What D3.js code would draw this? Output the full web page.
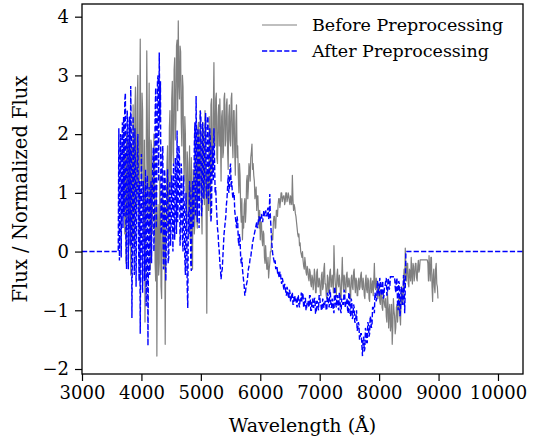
<!DOCTYPE html>
<html>
<head>
<meta charset="utf-8">
<script src="https://cdn.jsdelivr.net/npm/d3@7"></script>
<style>
  body { margin: 0; background: #fff; }
  svg { display: block; font-family: "DejaVu Serif", serif; }
</style>
</head>
<body>
<div id="chart"></div>
<script>
// tick values
var xTicks = [3000, 4000, 5000, 6000, 7000, 8000, 9000, 10000];
var yTicks = [-2, -1, 0, 1, 2, 3, 4];

// legend labels
var seriesNames = ["Before Preprocessing", "After Preprocessing"];

// before preprocessing: flux every 10 A from 3700 A (one row = 100 A)
var beforeStart = 3700;
var beforeStep = 10;
var beforeFlux = [
  0.8, 1.9, 0.3, 1.6, -0.2, 2.0, 0.5, 1.4, 1.9, 0.4,
  2.2, 0.6, -0.4, 1.8, 1.7, 0.2, 2.5, 1.1, 0.1, 2.4,
  2.8, 0.7, 1.0, 2.6, 3.0, 0.9, 0.3, 2.2, 3.62, 1.5,
  1.2, 2.7, 2.4, 0.6, 0.2, 1.9, -1.2, 0.9, 1.5, 3.42,
  2.1, 0.5, 1.6, 2.87, 0.4, -0.3, 1.9, 1.8, 0.3, 1.2,
  0.9, 2.0, 1.4, -0.2, -0.5, 1.1, -1.78, 0.5, 0.8, -0.4,
  -0.2, 1.3, 0.6, -0.6, -0.8, 0.7, 1.1, -0.1, -0.3, 0.8,
  -1.58, 0.3, 0.4, 1.5, 1.8, 0.6, 0.2, 2.1, 2.4, 1.3,
  1.0, 2.6, 2.9, 1.7, 1.5, 3.1, 3.3, 1.9, 2.2, 3.5,
  3.6, 2.4, 3.93, 2.9, 2.6, 3.5, 3.4, 2.2, 1.8, 3.0,
  2.8, 1.6, 1.2, 2.3, 2.0, 0.9, 0.4, 1.7, 1.5, 0.6,
  0.9, 1.8, 0.2, 1.1, 1.6, -0.1, -0.3, 1.4, 1.2, 0.3,
  0.5, 2.0, 1.8, 0.6, 0.4, 2.1, 2.2, 0.9, 1.1, 2.4,
  1.9, 0.8, 0.3, 2.2, 2.0, 1.0, 0.8, 2.4, 1.5, 0.5,
  -1.05, 1.4, 1.2, 0.7, 2.3, 1.5, 0.6, 2.5, 2.6, 1.3,
  1.4, 2.4, 3.22, 1.9, 1.8, 2.6, 2.7, 1.6, 1.5, 2.3,
  2.5, 1.8, 2.6, 2.0, 1.2, 2.3, 2.4, 1.6, 1.7, 2.6,
  2.7, 1.8, 1.9, 2.5, 2.6, 1.7, 1.4, 2.3, 2.5, 1.9,
  1.8, 2.6, 2.7, 1.9, 1.6, 2.4, 2.4, 1.7, 1.3, 2.2,
  2.5, 1.6, 1.8, 1.3, 1.0, 1.5, 1.3, 0.7, 0.5, 0.9,
  0.2, 0.6, 0.4, 0.8, 0.9, 0.5, 0.7, 1.2, 1.3, 0.9,
  1.1, 1.5, 1.4, 1.2, 1.6, 1.7, 1.83, 1.4, 1.5, 1.3,
  1.2, 0.9, 1.0, 1.1, 0.7, 0.95, 0.95, 0.6, 0.4, 0.7,
  0.2, 0.5, 0.5, 0.2, 0.1, 0.35, 0.3, -0.1, -0.2, 0.1,
  -0.1, -0.3, -0.3, -0.1, -0.45, -0.3, -0.2, 0.0, 0.0, 0.2,
  0.3, 0.2, 0.5, 0.6, 0.6, 0.4, 0.4, 0.7, 0.7, 0.6,
  0.8, 0.9, 0.9, 0.75, 0.85, 1.0, 1.0, 0.85, 0.9, 0.95,
  0.95, 0.8, 0.85, 1.0, 1.0, 0.85, 0.9, 1.0, 0.95, 0.85,
  0.8, 0.95, 0.85, 0.8, 1.3, 0.9, 0.7, 0.8, 0.75, 0.65,
  0.6, 0.5, 0.4, 0.3, 0.25, 0.3, 0.1, 0.15, 0.0, -0.05,
  -0.1, 0.0, -0.15, -0.25, -0.3, -0.1, -0.2, -0.35, -0.4, -0.25,
  -0.3, -0.45, -0.5, -0.3, -0.35, -0.55, -0.6, -0.4, -0.45, -0.65,
  -0.55, -0.3, -0.4, -0.7, -0.7, -0.35, -0.3, -0.6, -0.6, -0.45,
  -0.5, -0.7, -0.75, -0.4, -0.35, -0.65, -0.6, -0.3, -0.2, -0.55,
  -0.55, -0.75, -0.8, -0.4, -0.45, -0.7, -0.65, -0.35, -0.3, -0.6,
  -0.6, -0.4, -0.45, -0.7, 0.1, -0.3, -0.5, -0.65, -0.75, -0.4,
  -0.3, -0.55, -0.6, -0.4, -0.5, -0.75, -0.8, -0.45, -0.1, -0.5,
  -0.65, -0.4, -0.45, -0.7, -0.7, -0.4, -0.35, -0.6, -0.6, -0.45,
  -0.5, -0.7, -0.8, -0.45, -0.4, -0.6, -0.65, -0.35, -0.3, -0.55,
  -0.7, -0.45, -0.5, -0.75, -0.75, -0.5, -0.45, -0.65, -0.6, -0.4,
  -0.35, -0.6, -0.65, -0.45, -0.55, -0.75, -0.8, -0.5, -0.4, -0.65,
  -0.7, -0.45, -0.5, -0.8, -0.85, -0.5, -0.45, -0.7, -0.6, -0.5,
  -0.75, -0.5, -0.2, -0.6, -0.65, -0.45, -0.5, -0.75, -0.8, -0.55,
  -0.6, -0.85, -0.9, -0.65, -0.7, -0.95, -1.0, -0.7, -0.8, -0.9,
  -0.95, -0.8, -1.1, -1.2, -0.7, -0.9, -1.3, -1.0, -0.9, -1.35,
  -1.2, -0.9, -1.58, -1.3, -0.8, -1.0, -1.1, -1.4, -1.3, -0.95,
  -0.9, -1.2, -1.0, -0.75, -0.8, -1.1, -1.25, -0.8, -0.6, -0.9,
  -0.9, -0.5, -0.3, -0.6, 0.06, -0.3, -0.5, -0.2, -0.2, -0.55,
  -0.6, -0.3, -0.35, -0.5, -0.1, -0.4, -0.55, -0.2, -0.25, -0.5,
  -0.4, -0.2, -0.2, -0.45, -0.5, -0.25, -0.15, -0.35, -0.3, -0.14,
  -0.14, -0.14, -0.14, -0.14, -0.14, -0.14, -0.14, -0.14, -0.14, -0.14,
  -0.14, -0.14, -0.2, -0.5, -0.07, -0.3, -0.5, -0.1, -0.1, -0.6,
  -0.85, -0.4, -0.3, -0.6, -0.7, -0.3, -0.2, -0.55, -0.6, -0.8
];

// after preprocessing: flux every 10 A from 3600 A (one row = 100 A)
var afterStart = 3600;
var afterStep = 10;
var afterFlux = [
  0, 0, 2.1, -0.15, 1.2, 2.0, -0.1, 1.6, 2.2, 0.4,
  2.3, 0.6, 2.57, 2.7, 0.2, -0.3, 2.4, 2.2, -0.3, 1.8,
  2.3, 0.1, 2.82, 1.9, -1.13, 0.4, 2.3, 0.5, -0.4, 2.1,
  1.4, -0.6, 0.8, 1.5, 2.0, 0.3, -0.5, 1.2, -1.4, 0.6,
  1.66, 0.2, -0.7, 1.2, 1.0, -0.5, 0.3, 1.4, -0.93, 0.8,
  1.3, -1.6, 0.2, 1.1, -0.4, 0.5, 1.2, -0.2, 0.9, 1.5,
  1.77, 0.0, 0.6, 2.3, 2.79, 0.4, 1.4, 2.9, 3.0, 1.2,
  3.39, 2.2, 2.9, 0.3, 0.4, 1.6, 1.8, -0.3, -0.2, 1.4,
  1.2, -0.5, 0.3, 1.0, 1.4, -0.2, -0.1, 0.9, 1.2, 0.1,
  0.5, 1.3, 0.8, 0.0, 1.5, 0.6, 0.2, 1.6, 1.1, 0.3,
  2.06, 0.5, 0.9, 1.8, 1.6, 0.1, 0.4, 1.5, 1.2, 0.2,
  0.0, 1.3, 0.8, -0.1, -0.4, 1.0, 0.6, -0.6, -0.96, 0.7,
  0.3, 1.2, 1.0, -0.2, -0.33, 0.9, 1.2, 0.4, 0.6, 1.8,
  2.2, 0.6, 2.65, 1.5, 0.5, 2.1, 1.9, 0.4, 1.1, 2.4,
  2.3, 0.6, 0.8, 2.2, 2.0, 0.9, 1.3, 2.0, 2.36, 1.0,
  0.9, 2.3, 2.3, 0.8, 1.2, 2.1, 1.9, 0.5, 0.7, 1.8,
  1.5, 1.2, 2.1, 1.6, 1.0, 1.1, 0.8, 0.6, 0.4, 0.3,
  0.1, 0.0, -0.2, -0.3, -0.47, -0.35, -0.3, -0.1, 0.1, 0.3,
  0.4, 0.5, 0.6, 0.8, 0.9, 1.1, 1.3, 1.0, 1.1, 1.4,
  1.5, 1.1, 1.2, 1.0, 0.9, 1.0, 1.0, 0.7, 0.6, 0.5,
  0.4, 0.6, 0.5, 0.2, 0.1, 0.3, 0.2, -0.1, -0.2, -0.1,
  -0.3, -0.4, -0.5, -0.6, -0.75, -0.7, -0.6, -0.55, -0.5, -0.4,
  -0.3, -0.25, -0.2, -0.1, -0.1, 0.0, 0.05, 0.15, 0.2, 0.25,
  0.3, 0.35, 0.4, 0.45, 0.5, 0.4, 0.45, 0.55, 0.6, 0.5,
  0.55, 0.6, 0.64, 0.55, 0.5, 0.6, 0.7, 0.65, 0.6, 0.7,
  0.65, 0.6, 0.7, 0.75, 0.55, 0.6, 0.98, 0.6, 0.4, 0.2,
  0.06, -0.05, -0.1, -0.15, -0.2, -0.15, -0.3, -0.25, -0.25, -0.35,
  -0.33, -0.4, -0.45, -0.35, -0.35, -0.5, -0.55, -0.45, -0.5, -0.6,
  -0.65, -0.55, -0.6, -0.7, -0.75, -0.6, -0.65, -0.75, -0.8, -0.65,
  -0.7, -0.85, -0.8, -0.7, -0.7, -0.9, -0.9, -0.75, -0.75, -0.85,
  -0.8, -0.9, -0.95, -0.75, -0.75, -0.9, -0.95, -0.8, -0.85, -0.7,
  -0.85, -0.7, -0.75, -0.95, -0.95, -0.8, -0.8, -1.0, -0.95, -0.85,
  -0.85, -0.9, -0.95, -0.75, -0.75, -1.0, -1.0, -0.85, -0.8, -0.95,
  -0.95, -0.8, -0.8, -1.05, -1.05, -0.85, -0.85, -0.95, -1.0, -0.75,
  -0.75, -0.9, -0.9, -1.0, -1.0, -0.8, -0.85, -0.95, -0.95, -0.85,
  -0.85, -1.0, -1.0, -0.7, -0.75, -0.9, -0.95, -0.65, -0.7, -0.95,
  -0.95, -0.8, -0.85, -1.0, -1.05, -0.6, -0.65, -0.9, -0.95, -0.75,
  -0.75, -0.95, -1.0, -0.7, -0.75, -1.0, -1.05, -0.8, -0.85, -0.9,
  -0.9, -0.65, -0.7, -0.95, -0.9, -0.85, -0.8, -1.0, -1.05, -0.7,
  -0.7, -1.05, -1.1, -0.8, -0.85, -1.15, -1.1, -0.9, -0.95, -1.2,
  -1.2, -1.1, -1.0, -1.35, -1.3, -1.2, -1.25, -1.5, -1.45, -1.4,
  -1.4, -1.6, -1.78, -1.5, -1.45, -1.7, -1.65, -1.3, -1.35, -1.55,
  -1.55, -1.2, -1.25, -1.45, -1.4, -1.1, -1.15, -1.3, -1.25, -0.95,
  -0.95, -1.0, -1.05, -0.7, -0.75, -0.85, -0.8, -0.5, -0.55, -0.75,
  -0.75, -0.45, -0.5, -0.7, -0.75, -0.55, -0.5, -0.8, -0.75, -0.6,
  -0.6, -0.5, -0.45, -0.75, -0.7, -0.45, -0.5, -0.65, -0.6, -0.43,
  -0.43, -0.43, -0.43, -0.43, -0.43, -0.43, -0.43, -0.6, -0.7, -0.5,
  -0.45, -0.9, -1.0, -0.5, -0.55, -1.1, -1.0, -0.6, -0.65, -0.9,
  -0.9, -0.4, -0.5, -1.05, -0.6
];
// zero padding of the processed spectrum outside the observed range
var afterPadLeft = [3000];
var afterPadRight = [8450, 10421];

// svg dimensions and plot box
var width = 533, height = 438;
var margin = {top: 4, right: 10, bottom: 64, left: 82};
var plotW = width - margin.left - margin.right;
var plotH = height - margin.top - margin.bottom;

var svg = d3.select("#chart")
  .append("svg")
  .attr("width", width)
  .attr("height", height);

var x = d3.scaleLinear()
  .domain([3000, 10421])
  .range([margin.left, margin.left + plotW]);

var y = d3.scaleLinear()
  .domain([-2.085, 4.216])
  .range([margin.top + plotH, margin.top]);

// build the point lists
var beforeData = beforeFlux.map(function(v, i) {
  return [beforeStart + i * beforeStep, v];
});
var afterData = afterPadLeft.map(function(w) { return [w, 0]; });
afterFlux.forEach(function(v, i) {
  afterData.push([afterStart + i * afterStep, v]);
});
afterPadRight.forEach(function(w) { afterData.push([w, 0]); });

var line = d3.line()
  .x(function(d) { return x(d[0]); })
  .y(function(d) { return y(d[1]); });

svg.append("clipPath")
  .attr("id", "plotClip")
  .append("rect")
  .attr("x", margin.left)
  .attr("y", margin.top)
  .attr("width", plotW)
  .attr("height", plotH);

var plot = svg.append("g").attr("clip-path", "url(#plotClip)");

plot.append("path")
  .datum(beforeData)
  .attr("fill", "none")
  .attr("stroke", "#808080")
  .attr("stroke-width", 1.2)
  .attr("stroke-linejoin", "round")
  .attr("d", line);

plot.append("path")
  .datum(afterData)
  .attr("fill", "none")
  .attr("stroke", "#0000ff")
  .attr("stroke-width", 1.4)
  .attr("stroke-dasharray", "5.2,2.2")
  .attr("d", line);

// axes
var fmt = function(d) { return d < 0 ? "\u2212" + Math.abs(d) : "" + d; };

var xAxis = svg.append("g")
  .attr("transform", "translate(0," + (margin.top + plotH) + ")")
  .call(d3.axisBottom(x).tickValues(xTicks).tickSize(7).tickPadding(5).tickFormat(fmt));

var yAxis = svg.append("g")
  .attr("transform", "translate(" + margin.left + ",0)")
  .call(d3.axisLeft(y).tickValues(yTicks).tickSize(7).tickPadding(6).tickFormat(fmt));

[xAxis, yAxis].forEach(function(ax) {
  ax.select(".domain").remove();
  ax.selectAll("line").attr("stroke", "#000").attr("stroke-width", 1.2);
  ax.selectAll("text")
    .attr("fill", "#000")
    .style("font-size", "18px")
    .style("font-family", "DejaVu Serif");
});

// frame
svg.append("rect")
  .attr("x", margin.left)
  .attr("y", margin.top)
  .attr("width", plotW)
  .attr("height", plotH)
  .attr("fill", "none")
  .attr("stroke", "#000")
  .attr("stroke-width", 1.3);

// axis labels
svg.append("text")
  .attr("x", margin.left + plotW / 2)
  .attr("y", 432)
  .attr("text-anchor", "middle")
  .style("font-size", "19px")
  .text("Wavelength (\u00c5)");

svg.append("text")
  .attr("transform", "translate(27," + (margin.top + plotH / 2) + ") rotate(-90)")
  .attr("text-anchor", "middle")
  .style("font-size", "19.5px")
  .text("Flux / Normalized Flux");

// legend
var legend = svg.append("g");
var legendRows = [
  {name: seriesNames[0], color: "#808080", width: 1.2, dash: null, y: 25},
  {name: seriesNames[1], color: "#0000ff", width: 1.4, dash: "5.2,2.2", y: 51}
];
legendRows.forEach(function(r) {
  legend.append("line")
    .attr("x1", 262)
    .attr("x2", 297)
    .attr("y1", r.y)
    .attr("y2", r.y)
    .attr("stroke", r.color)
    .attr("stroke-width", r.width)
    .attr("stroke-dasharray", r.dash);
  legend.append("text")
    .attr("x", 312)
    .attr("y", r.y)
    .attr("dy", "0.35em")
    .style("font-size", "17.5px")
    .text(r.name);
});
</script>
</body>
</html>
